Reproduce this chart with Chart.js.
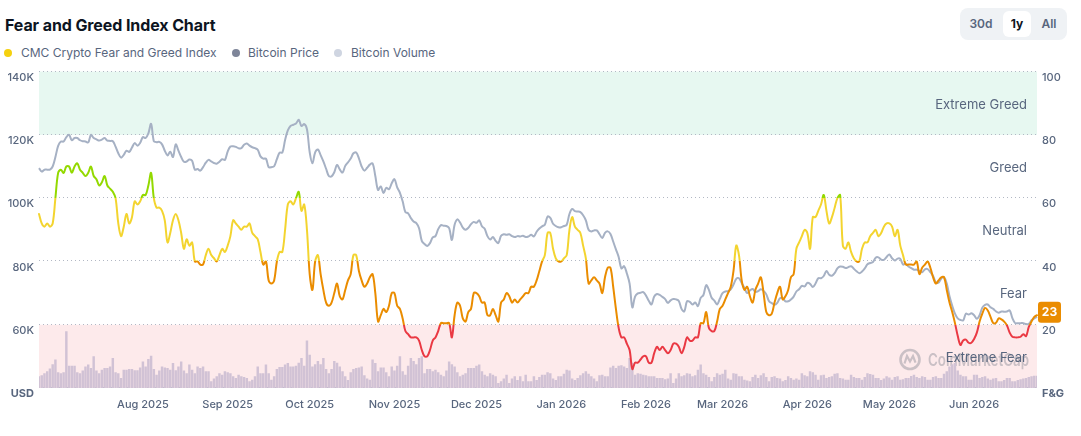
<!DOCTYPE html>
<html>
<head>
<meta charset="utf-8">
<script src="https://cdn.jsdelivr.net/npm/chart.js@4.4.1/dist/chart.umd.min.js"></script>
<style>
  html, body { margin:0; padding:0; background:#fff; width:1081px; height:436px; overflow:hidden; font-family:'Inter', 'Noto Sans', sans-serif; }
  #title { position:absolute; left:5px; top:15px; font-size:16px; line-height:20px; font-weight:700; color:#0d1421; white-space:nowrap; letter-spacing:-0.1px; }
  .dot { position:absolute; top:49px; width:8px; height:8px; border-radius:50%; }
  .lg { position:absolute; top:45px; font-size:12px; line-height:16px; color:#58667e; white-space:nowrap; }
  #seg { position:absolute; left:960px; top:8px; width:107px; height:32px; border-radius:8px; background:#eff2f5; }
  #seg .act { position:absolute; left:43px; top:3px; width:28px; height:26px; border-radius:6px; background:#fff; }
  #seg .b { position:absolute; top:0; height:32px; line-height:32px; font-size:12px; font-weight:600; color:#58667e; transform:translateX(-50%); white-space:nowrap; }
  #seg .b.on { color:#0d1421; font-weight:700; }
  #wrap { position:absolute; left:0; top:60px; width:1081px; height:376px; }
</style>
</head>
<body>
<div id="title">Fear and Greed Index Chart</div>
<div class="dot" style="left:4px;background:#f5d10f"></div>
<div class="lg" style="left:21px">CMC Crypto Fear and Greed Index</div>
<div class="dot" style="left:232px;background:#7e8599"></div>
<div class="lg" style="left:248px">Bitcoin Price</div>
<div class="dot" style="left:334px;background:#cfd5e1"></div>
<div class="lg" style="left:351px">Bitcoin Volume</div>
<div id="seg">
  <div class="act"></div>
  <span class="b" style="left:21px">30d</span>
  <span class="b on" style="left:57px">1y</span>
  <span class="b" style="left:89px">All</span>
</div>
<div id="wrap"><canvas id="c" width="1081" height="376" style="width:1081px;height:376px"></canvas></div>
<script>
// ---------- data (daily, first day below) ----------
const START_DATE = '2025-06-24';

// CMC Crypto Fear and Greed Index (0-100), one value per day
const fearGreed = [
  55,52,51,52,51,52,60,68,69,68,
  70,70,68,70,71,69,68,67,68,70,
  67,66,64,65,67,64,63,62,60,52,
  48,51,55,52,54,59,58,59,61,61,
  64,68,60,57,57,56,53,46,49,53,
  55,53,49,44,47,45,46,40,40,39,
  39,42,44,42,41,40,42,44,43,45,
  48,53,52,51,50,51,51,52,49,48,
  47,43,39,40,34,33,34,40,43,43,
  50,58,59,58,60,62,56,58,50,36,
  31,40,42,36,31,27,26,27,30,33,
  29,28,31,34,36,42,42,37,34,32,
  33,35,36,30,21,23,25,24,26,30,
  30,26,25,22,18,17,16,16,16,15,
  12,10,10,12,15,16,18,20.5,20.5,20.5,
  20.5,16,23,27,26,22,21,24,25,30,
  30,29,27,27,23,23,25,23,21,27,
  28,30,29,27,28,27,28,29,30,30,
  32,32,34,37,40,42,49,49,44,41,
  40,40,41,42,50,54,51,50,49,45,
  41,33,34,35,34,33,30,35,38,38,
  32,25,19,16,16,14,12,6,8,8,
  9,10,10,8,8,11,13,12,13,12,
  11,12,14,14,13,11,13,16,15,15,
  16,16,20.5,20.5,24,19,18,18,21,25,
  26,28,30,32,37,45,42,34,31,32,
  29,27,31,33,35,30,24,23,23.5,27,
  30,32,28,29,31,35,36,44,46,48,
  50,49,44,54,54,56,58,61,56,52,
  54,57,60,61,45,44,46,43,41,40,
  40,44,46,46,48,49,50,48,49,51,
  52,52,51,48,50,45,42,39,39,39,
  39,40,36,38,39,40,38,35,33,34,
  35,35,31,27,24,20.5,16.5,13.6,15,15.3,
  14.3,14.3,15.5,17.5,21,23.5,25.3,24.5,22.5,20.5,
  20.6,22,21.7,21,19.8,17.5,16.2,16,16,16.2,
  17,16.4,19.3,21,22.5,23
];

// Bitcoin price, thousands of USD
const btcPriceK = [
  109.5,108.4,109,109,109,110,113,116.5,117.9,117.9,
  119.3,120,118.3,119,119,118.3,118,117.9,117.6,120,
  119,118.6,118.2,118.5,119,118.2,118.1,118,116.3,114.2,
  112.8,113.7,115,114.6,116,117.4,116.6,117.5,119.3,119,
  120.5,123.5,118,117.7,117.8,117,115,113.5,114.7,113,
  117,115,113,111.5,111.6,112.2,111.8,109,109.2,108.7,
  109.8,111.2,112.1,111.6,111.1,110.9,111.5,112.3,112.1,114.7,
  116.3,116.4,116.2,115.8,115.8,116.9,117.3,116.6,116.1,115.8,
  115.3,113.2,112.5,112.5,109.8,109.8,110.1,112.3,114.4,114.4,
  118.4,121.4,122.8,123.2,123.6,124.8,122.8,123.4,121.8,114.5,
  111,114.5,115.4,113.6,111.6,109.3,107,106.9,108.2,110.5,
  109.1,108.1,110.2,111.3,112.5,114.2,114.4,112.6,110,108.7,
  109.6,110.6,111,107,102.6,103.7,101.6,103.3,102.8,104.7,
  106,103.4,101.7,99,95.6,95.2,93.7,92.6,92.1,90.5,
  86.5,85.5,84.9,85.8,87.6,88,90.2,91.5,91.3,91.2,
  90.5,86.8,91.6,93.3,92.3,90.7,90,90.6,91.8,92.5,
  92.2,93,91.1,90.3,88,86.9,87.7,86.5,85.8,88.1,
  88.6,88.4,88.6,88,87.7,88,87.9,88.1,87.7,87.9,
  88.4,87.9,89.4,90.4,91.1,91.6,94.2,93.8,91.9,91.2,
  90.8,90.8,91.2,91.6,95,96.6,95.9,95.8,95.6,94.6,
  93,90,89.5,89.8,89.8,88.6,87.4,89,89.5,88.7,
  86.3,83.8,81.4,77.8,78.5,76.2,73,65.5,68.9,69.9,
  70.1,70.3,69.2,67.6,66.4,68.9,69.7,69.4,68.8,68.1,
  66.9,67.7,68.1,68,67.5,65,64.2,67.4,67.2,66.4,
  67,65.9,68.5,69.4,72.5,71,68.5,67.6,66.4,68.2,
  70,70.5,70.6,71.2,72.7,74.5,74.7,73.2,71.6,70,
  70.8,71.3,70.4,70.6,71.2,70.7,69.6,67.4,66.8,66.3,
  66.9,68.4,68.4,67.4,67.4,68,68.9,70.5,71.2,72.3,
  72.1,73.2,72.9,71.9,73,74.7,74.7,75.4,77,75.8,
  75.5,76.3,77.8,78.4,78.3,77.9,78.2,78.5,77.7,76.9,
  76.3,76.8,77.8,79.1,79.5,79.8,81.2,81.3,80.6,80.5,
  81.4,82.2,81,80.3,80.9,80.8,79,79.3,78.4,77.9,
  77.4,77.4,77,76.6,77.5,77.6,76.6,75.4,73.4,73.3,
  74.6,75,73,69,66,63.5,62,61.5,61.4,63.5,
  63.2,63.6,63,61.9,63,65.4,66.3,66.4,65.5,65,
  64.2,63.8,64.2,64.1,64.2,64.5,62.1,60.5,60.5,60.5,
  60.5,60.2,60.3,61.4,62,62.5
];

// Bitcoin 24h volume, billions of USD
const btcVolumeB = [
  3.7,4,4.7,5.3,6.2,7.5,9,5,4.7,5,
  17.9,7,7,7,5,4.7,5.5,6.8,7.4,6.3,
  10,5.5,4.7,5.8,6.3,6.3,6.8,9.5,5,4.7,
  3.2,5.8,5.8,6,6,5.6,5.6,6.5,8.4,6.8,
  9.2,10.2,6,4.2,5.5,6.8,6.5,6.3,5.8,7.9,
  5.6,6.8,8.4,5.5,4.7,7.4,5.8,4.7,6.8,6.3,
  6.8,5.3,5.3,2.1,3,3.7,4.7,4.2,5.3,5,
  4.7,3.7,3.2,4.2,3.7,3.5,3.2,2.1,2.6,3.7,
  6.8,4.7,4.7,7.4,4.7,2.6,3.7,6,6.6,6.6,
  7.4,7.9,6.8,6.8,7,8,9.5,7,15,10.5,
  6.8,7.5,8.5,7.5,9.5,6,4.7,6,8.5,8,
  6.8,5.3,3.7,2.5,5,6,6.3,6.5,6.8,4,
  3,2.6,9,7.9,5.3,6.5,6.5,5,3.7,6.8,
  5.5,7,10,5.3,4.2,7,9.5,8.5,7.5,9.5,
  10,4.7,6,6,5.3,5.8,5,4.2,3.7,5.5,
  8.4,7.5,6.8,5,3.7,4.2,4.7,6.3,6.3,6.3,
  7,7.4,5.3,4.2,3.7,4.7,4.2,3.7,1.6,2.1,
  3,4.2,1.6,3,3.7,2.5,3.7,2.1,4.2,2.1,
  2.1,3.7,2.5,3.5,4.2,4.2,5,4.7,3,2.5,
  3.7,3.7,4.5,5.8,5.5,3,2.5,3.2,4,4.7,
  5.3,4.5,3.7,3,2.1,4,4.2,3.7,3.7,6.5,
  7,6.3,7,7.2,6.8,6.3,9.5,8,4.2,4.7,
  4.5,4.2,4,3.7,3.7,3.7,3.2,3.2,3.2,2.8,
  3,4.7,1.6,3,4.7,3.7,4,4.7,4.5,3.7,
  4,5.8,7.4,4.7,4.2,3.5,2.1,3.5,4.7,4.2,
  4.5,5.8,3,2.6,4.7,4.5,3.7,3.7,2.6,2.4,
  2.1,3.5,4.2,3.2,4,4.7,3.5,2.1,3.5,3.7,
  3.2,3,2.1,2.5,3.7,3.2,2.6,3,2.6,4.7,
  4,3.7,5.3,5,4.2,2.6,4,4.2,3.2,3.5,
  3.7,4.5,4.7,3.2,3,2.6,2.6,4.2,3.5,3.2,
  3.2,2.6,3.5,4.7,4.4,4.2,3.2,3.2,2.5,3,
  3.7,3.3,2.6,3.5,3.7,2.6,2.8,3.2,3.2,3.8,
  4.2,3.5,3.2,3.7,3.5,2.6,2.6,3.5,3.7,3.2,
  3.2,4.5,5.3,6.8,7.5,7.9,5.5,4.2,3.7,3.7,
  2.6,2.6,4.2,4.2,3.2,3.5,3.7,3,2.6,3,
  3.2,2.1,2.1,2.5,3.2,3.2,2.1,2.1,2.5,2.8,
  3,3.2,3.5,3.7,3.9,3.9
];

// Sentiment zones on the F&G axis
const zoneEdges  = [0, 20, 40, 60, 80, 100];
const zoneNames  = ['Extreme Fear', 'Fear', 'Neutral', 'Greed', 'Extreme Greed'];
const zoneColors = ['#ea3943', '#ea8c00', '#f3d42f', '#93d900', '#16c784'];

// Axis tick labels
const priceTicksK = [40, 60, 80, 100, 120, 140];
const fgTicks = [0, 20, 40, 60, 80, 100];
const monthNames = ['Jan','Feb','Mar','Apr','May','Jun','Jul','Aug','Sep','Oct','Nov','Dec'];

// ---------- categories (dates) ----------
const dates = [];
{
  const s = Date.parse(START_DATE + 'T00:00:00Z');
  for (let i = 0; i < fearGreed.length; i++) dates.push(new Date(s + i * 86400000).toISOString().slice(0, 10));
}
// month-start ticks (the month that starts right at the left edge is not labelled)
const monthTickIdx = dates.map((d, i) => (d.endsWith('-01') && i > 20) ? i : -1).filter(i => i >= 0);
const monthLabel = i => { const d = dates[i]; return monthNames[parseInt(d.slice(5, 7), 10) - 1] + ' ' + d.slice(0, 4); };

const TXT = '#58667e';
const FONT = 'Inter';

function fgGradient(context) {
  const chart = context.chart;
  const { ctx, chartArea, scales } = chart;
  if (!chartArea || !scales.yF) return zoneColors[2];
  const y0 = scales.yF.getPixelForValue(0), y1 = scales.yF.getPixelForValue(100);
  const g = ctx.createLinearGradient(0, y0, 0, y1);
  for (let i = 0; i < zoneColors.length; i++) {
    g.addColorStop(zoneEdges[i] / 100, zoneColors[i]);
    g.addColorStop(zoneEdges[i + 1] / 100, zoneColors[i]);
  }
  return g;
}
function zoneColorFor(v) {
  for (let i = zoneColors.length - 1; i >= 0; i--) if (v >= zoneEdges[i]) return zoneColors[i];
  return zoneColors[0];
}

const decor = {
  id: 'decor',
  beforeDatasetsDraw(chart) {
    const { ctx, chartArea: a, scales } = chart;
    const yF = scales.yF;
    ctx.save();
    // bands
    let t = yF.getPixelForValue(100), b = yF.getPixelForValue(80);
    ctx.fillStyle = '#e7f8f1';
    ctx.fillRect(a.left, t, a.right - a.left, b - t);
    t = yF.getPixelForValue(20); b = yF.getPixelForValue(0);
    ctx.fillStyle = '#fdeaeb';
    ctx.fillRect(a.left, t, a.right - a.left, b - t);
    // dotted grid
    ctx.strokeStyle = '#b2b8c4';
    ctx.lineWidth = 1;
    ctx.setLineDash([1, 3]);
    for (const v of zoneEdges) {
      const y = Math.round(yF.getPixelForValue(v)) - 0.5;
      ctx.beginPath(); ctx.moveTo(a.left, y); ctx.lineTo(a.right, y); ctx.stroke();
    }
    ctx.setLineDash([]);
    // watermark
    ctx.globalAlpha = 0.38;
    ctx.strokeStyle = '#767b88';
    ctx.lineWidth = 2.6;
    const cx = a.right - 127, cy = yF.getPixelForValue(9);
    ctx.beginPath(); ctx.arc(cx, cy, 9.5, 0, Math.PI * 2); ctx.stroke();
    ctx.lineWidth = 2.2;
    ctx.beginPath();
    ctx.moveTo(cx - 5.5, cy + 4); ctx.lineTo(cx - 3, cy - 3.5); ctx.lineTo(cx, cy + 2); ctx.lineTo(cx + 3, cy - 3.5); ctx.lineTo(cx + 5.5, cy + 3);
    ctx.stroke();
    ctx.fillStyle = '#767b88';
    ctx.font = '600 17px ' + FONT;
    ctx.textAlign = 'left';
    ctx.textBaseline = 'middle';
    ctx.fillText('CoinMarketCap', a.right - 109, cy + 1, 101);
    ctx.restore();
  },
  afterDatasetsDraw(chart) {
    const { ctx, chartArea: a, scales } = chart;
    const yF = scales.yF;
    ctx.save();
    ctx.fillStyle = TXT;
    ctx.font = '400 13px ' + FONT;
    ctx.textAlign = 'right';
    ctx.textBaseline = 'middle';
    for (let i = 0; i < zoneNames.length; i++) {
      const y = (yF.getPixelForValue(zoneEdges[i]) + yF.getPixelForValue(zoneEdges[i + 1])) / 2 + 1.5;
      ctx.fillText(zoneNames[i], a.right - 10, y);
    }
    ctx.restore();
  },
  afterDraw(chart) {
    const { ctx, chartArea: a, scales } = chart;
    const v = fearGreed[fearGreed.length - 1];
    const y = scales.yF.getPixelForValue(v) - 3;
    const x = a.right + 1, w = 23, h = 21;
    ctx.save();
    ctx.fillStyle = zoneColorFor(v);
    ctx.beginPath();
    ctx.roundRect(x, y - h / 2, w, h, 3);
    ctx.fill();
    ctx.fillStyle = '#fff';
    ctx.font = '700 12px ' + FONT;
    ctx.textAlign = 'center';
    ctx.textBaseline = 'middle';
    ctx.fillText(String(Math.round(v)), x + w / 2, y + 0.5);
    ctx.restore();
  }
};

new Chart(document.getElementById('c'), {
  data: {
    labels: dates,
    datasets: [
      { type: 'line', label: 'CMC Crypto Fear and Greed Index', data: fearGreed, yAxisID: 'yF',
        borderColor: fgGradient, borderWidth: 2, pointRadius: 0, tension: 0.35, order: 0,
        borderJoinStyle: 'round', borderCapStyle: 'round' },
      { type: 'line', label: 'Bitcoin Price', data: btcPriceK, yAxisID: 'yP',
        borderColor: '#a6b1c4', borderWidth: 2, pointRadius: 0, tension: 0.35, order: 1,
        borderJoinStyle: 'round' },
      { type: 'bar', label: 'Bitcoin Volume', data: btcVolumeB, yAxisID: 'yV',
        backgroundColor: '#d1c2d5', barPercentage: 1, categoryPercentage: 0.9, order: 2 }
    ]
  },
  options: {
    responsive: false,
    animation: false,
    layout: { padding: { top: 11, left: 0, right: 0, bottom: 0 } },
    plugins: { legend: { display: false }, tooltip: { enabled: false } },
    scales: {
      x: {
        type: 'category', offset: false,
        grid: { display: false, drawTicks: false }, border: { display: false },
        afterBuildTicks: sc => { sc.ticks = monthTickIdx.map(i => ({ value: i })); },
        afterFit: sc => { sc.height = 48; },
        ticks: { autoSkip: false, maxRotation: 0, minRotation: 0, padding: 10, color: TXT,
          font: { family: FONT, size: 11, weight: '500' }, callback: v => monthLabel(v) }
      },
      yP: {
        type: 'linear', position: 'left', min: 40, max: 140,
        grid: { display: false, drawTicks: false }, border: { display: false },
        afterBuildTicks: sc => { sc.ticks = priceTicksK.map(v => ({ value: v })); },
        afterFit: sc => { sc.width = 39; },
        ticks: { padding: 5, labelOffset: 6, color: TXT,
          font: c => ({ family: FONT, size: 11, weight: (c.tick && c.tick.value === 40) ? '700' : '500' }),
          callback: v => v === 40 ? 'USD' : v + 'K' }
      },
      yF: {
        type: 'linear', position: 'right', min: 0, max: 100,
        grid: { display: false, drawTicks: false }, border: { display: false },
        afterBuildTicks: sc => { sc.ticks = fgTicks.map(v => ({ value: v })); },
        afterFit: sc => { sc.width = 44; },
        ticks: { padding: 5, labelOffset: 6, color: TXT,
          font: c => ({ family: FONT, size: 11, weight: (c.tick && c.tick.value === 0) ? '700' : '500' }),
          callback: v => v === 0 ? 'F&G' : String(v) }
      },
      yV: { type: 'linear', display: false, min: 0, max: 100 }
    }
  },
  plugins: [decor]
});
</script>
</body>
</html>
